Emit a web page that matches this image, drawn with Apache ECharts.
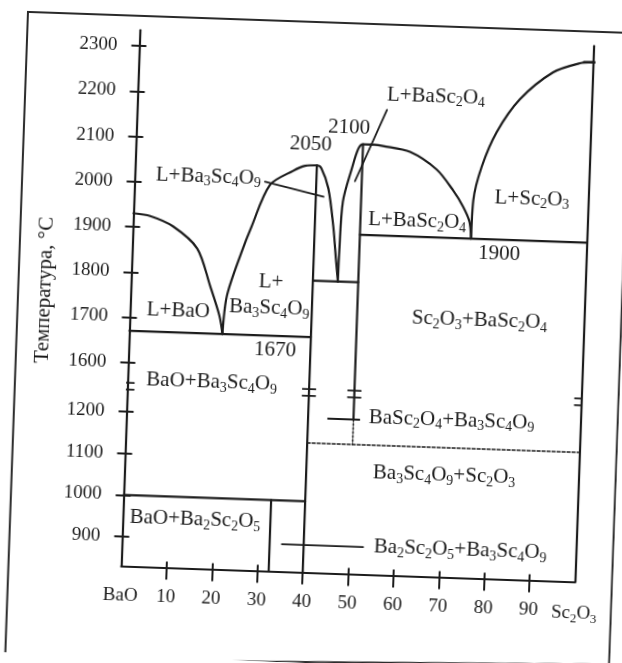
<!DOCTYPE html>
<html>
<head>
<meta charset="utf-8">
<script src="https://cdn.jsdelivr.net/npm/echarts@6/dist/echarts.min.js"></script>
<style>
  html, body { margin: 0; padding: 0; background: #fff; overflow: hidden; width: 622px; height: 663px; }
  /* the printed figure sits slightly skewed on the page */
  #chart { width: 622px; height: 663px; transform: rotate(2deg); transform-origin: 311px 331.5px; }
</style>
</head>
<body>
<div id="chart"></div>
<script>
// ---------- axes ----------
// composition, mol % Sc2O3
const xLabelValues = [0, 10, 20, 30, 40, 50, 60, 70, 80, 90, 100];
const xLabelNames  = ['BaO', '10', '20', '30', '40', '50', '60', '70', '80', '90', 'Sc2O3'];
const xTickValues  = [10, 20, 30, 40, 50, 60, 70, 80, 90];

// temperature, °C (axis is broken between 1200 and 1600)
const yTickValues = [900, 1000, 1100, 1200, 1600, 1700, 1800, 1900, 2000, 2100, 2200, 2300];
const T_BOTTOM = 829;
const T_TOP = 2335;

// ---------- compounds (mol % Sc2O3) ----------
const X_BA2SC2O5 = 32.5;
const X_BA3SC4O9 = 40;
const X_BASC2O4  = 50;

// ---------- invariant temperatures ----------
const T_EUT_BAO   = 1670;
const T_MAX_BA3   = 2050;
const T_EUT_MID   = 1795;
const T_MAX_BASC  = 2100;
const T_EUT_SC2O3 = 1900;
const T_SUB_1000  = 1000;
const T_DOTTED    = 1140;
const T_LEADER_HI = 1200;
const T_LEADER_LO = 895;

// ---------- liquidus curves [x, T] ----------
const liquidusBaO = [[0, 1930], [3.7, 1925], [8.8, 1904], [14.3, 1857], [17.4, 1776], [19.7, 1710], [20.5, T_EUT_BAO]];
const liquidusBa3Sc4O9 = [[20.5, T_EUT_BAO], [21.2, 1755], [24.1, 1853], [26.1, 1910], [29.8, 2003], [34.8, 2036],
  [37.4, 2048], [X_BA3SC4O9, T_MAX_BA3], [41, 2044], [42.7, 2000], [44.1, 1915], [44.9, 1845], [45.5, T_EUT_MID]];
const liquidusBaSc2O4 = [[45.5, T_EUT_MID], [45.6, 1865], [46.0, 1972], [47.7, 2045], [49.0, 2090], [X_BASC2O4, T_MAX_BASC],
  [52.5, 2100], [54.4, 2098], [60.4, 2087], [66.4, 2050], [70.2, 2005], [72.5, 1970], [74.0, 1938], [74.5, T_EUT_SC2O3]];
const liquidusSc2O3 = [[74.5, T_EUT_SC2O3], [74.7, 1985], [76.3, 2060], [79.3, 2137], [84.2, 2212], [91.3, 2274], [97.1, 2296], [100, 2299]];
const sc2o3MeltMark = [[98, 2299], [101, 2299]];

// ---------- straight phase boundaries ----------
const eutecticBaO   = [[0, T_EUT_BAO], [X_BA3SC4O9, T_EUT_BAO]];
const eutecticMid   = [[X_BA3SC4O9, T_EUT_MID], [X_BASC2O4, T_EUT_MID]];
const eutecticSc2O3 = [[X_BASC2O4, T_EUT_SC2O3], [100, T_EUT_SC2O3]];
const isotherm1000  = [[0, T_SUB_1000], [X_BA3SC4O9, T_SUB_1000]];
const isothermDotted = [[X_BA3SC4O9, T_DOTTED], [100, T_DOTTED]];
const lineBa2Sc2O5  = [[X_BA2SC2O5, T_SUB_1000], [X_BA2SC2O5, T_BOTTOM]];
const lineBa3Sc4O9  = [[X_BA3SC4O9, T_MAX_BA3], [X_BA3SC4O9, T_BOTTOM]];
const lineBaSc2O4   = [[X_BASC2O4, T_MAX_BASC], [X_BASC2O4, T_LEADER_HI]];
const lineBaSc2O4Dotted = [[X_BASC2O4, T_LEADER_HI], [X_BASC2O4, T_DOTTED]];

// label pointers
const leaderLines = [
  [[28.7, 2010], [41.7, 1981]],
  [[55.0, 2178], [48.5, 2018]],
  [[44.4, T_LEADER_HI], [51.3, T_LEADER_HI]],
  [[35.2, T_LEADER_LO], [53.1, T_LEADER_LO]]
];

// break symbols on the vertical lines
const breakLineX = [0, X_BA3SC4O9, X_BASC2O4, 100];
const breakMarkT = [1380, 1435];

// ---------- field labels: text, composition, temperature ----------
const fieldLabels = [
  ['L+BaO', 10.6, 1717],
  ['L+', 30.8, 1788],
  ['Ba3Sc4O9', 30.6, 1731],
  [String(T_EUT_BAO), 32.2, 1639],
  ['BaO+Ba3Sc4O9', 18.5, 1463],
  ['BaO+Ba2Sc2O5', 15.9, 946],
  [String(T_MAX_BA3), 38.5, 2095],
  [String(T_MAX_BASC), 46.8, 2135],
  ['L+BaSc2O4', 65.7, 2212],
  ['L+Ba3Sc4O9', 16.2, 2017],
  ['L+BaSc2O4', 62.5, 1934],
  ['L+Sc2O3', 87.6, 1993],
  [String(T_EUT_SC2O3), 80.8, 1869],
  ['Sc2O3+BaSc2O4', 77.0, 1719],
  ['BaSc2O4+Ba3Sc4O9', 71.6, 1222],
  ['Ba3Sc4O9+Sc2O3', 70.4, 1073],
  ['Ba2Sc2O5+Ba3Sc4O9', 74.5, 896]
];

// ---------- broken temperature scale ----------
const BREAK_LOW = 1200, BREAK_HIGH = 1600;
const BREAK_UNITS = 109;      // axis units taken by the break
const LOWER_RATIO = 0.9216;   // lower part is drawn slightly compressed
function toAxis(t) {
  if (t >= BREAK_HIGH) return t;
  const base = BREAK_HIGH - BREAK_UNITS;
  if (t <= BREAK_LOW) return base - (BREAK_LOW - t) * LOWER_RATIO;
  return base + (t - BREAK_LOW) * BREAK_UNITS / (BREAK_HIGH - BREAK_LOW);
}

// ---------- styling ----------
const INK = '#1c1c1c';
const FONT = '"Liberation Serif", "Times New Roman", serif';
const FS_TICK = 19;    // axis numbers
const FS_TEXT = 21;    // field labels and axis titles
const FS_SUB = 14;
const RICH_TICK = {
  n: { fontSize: FS_TICK, fontFamily: FONT, color: INK, fill: INK },
  s: { fontSize: 13, fontFamily: FONT, color: INK, fill: INK, padding: [10, 0, 0, 0] }
};
const RICH_TEXT = {
  n: { fontSize: FS_TEXT, fontFamily: FONT, color: INK, fill: INK },
  s: { fontSize: FS_SUB, fontFamily: FONT, color: INK, fill: INK, padding: [11, 0, 0, 0] }
};
// chemical formula -> rich text with subscripts
function chem(str) {
  const parts = str.match(/[^0-9]+|[0-9]+/g);
  return parts.map((p, i) => (/^[0-9]+$/.test(p) && i > 0) ? '{s|' + p + '}' : '{n|' + p + '}').join('');
}

const yTickAxis = yTickValues.map(toAxis);
const yLabelMap = new Map(yTickValues.map(t => [toAxis(t).toFixed(2), String(t)]));
const xLabelMap = new Map(xLabelValues.map((v, i) => [v, xLabelNames[i]]));

function seg(data, opt) {
  opt = opt || {};
  return {
    type: 'line',
    data: data.map(([x, t]) => [x, toAxis(t)]),
    showSymbol: false,
    symbol: 'none',
    silent: true,
    smooth: opt.smooth || false,
    lineStyle: { color: INK, width: opt.width || 2.2, type: opt.type || 'solid', cap: 'round', join: 'round' },
    z: 3
  };
}

const series = [
  seg(liquidusBaO, { smooth: 0.3 }),
  seg(liquidusBa3Sc4O9, { smooth: 0.3 }),
  seg(liquidusBaSc2O4, { smooth: 0.3 }),
  seg(liquidusSc2O3, { smooth: 0.3 }),
  seg(sc2o3MeltMark),
  seg(eutecticBaO),
  seg(eutecticMid),
  seg(eutecticSc2O3),
  seg(isotherm1000),
  seg(isothermDotted, { type: [3, 2], width: 1.5 }),
  seg(lineBa2Sc2O5),
  seg(lineBa3Sc4O9),
  seg(lineBaSc2O4),
  seg(lineBaSc2O4Dotted, { type: [2, 2], width: 1.5 }),
  ...leaderLines.map(l => seg(l, { width: 1.8 }))
];
breakLineX.forEach(x => {
  breakMarkT.forEach(t => series.push(seg([[x - 1.4, t], [x + 1.4, t]], { width: 1.8 })));
});

const tickStyle = { color: INK, width: 2 };
const option = {
  animation: false,
  backgroundColor: '#fff',
  grid: { left: 129.5, right: 38.5, top: 36.4, bottom: 90.4, outerBoundsMode: 'none' },
  xAxis: [
    {
      type: 'value', min: 0, max: 100, position: 'bottom',
      axisLine: { show: true, onZero: false, lineStyle: { color: INK, width: 2.2 } },
      axisTick: { show: true, customValues: xTickValues, length: 12, lineStyle: tickStyle },
      axisLabel: {
        show: true, customValues: xLabelValues, margin: 20, color: INK, fontFamily: FONT, fontSize: FS_TICK,
        formatter: v => chem(xLabelMap.get(v) || ''), rich: RICH_TICK
      },
      splitLine: { show: false }
    },
    {
      type: 'value', min: 0, max: 100, position: 'bottom',
      axisLine: { show: false },
      axisTick: { show: true, inside: true, customValues: xTickValues, length: 6, lineStyle: tickStyle },
      axisLabel: { show: false },
      splitLine: { show: false }
    }
  ],
  yAxis: [
    {
      type: 'value', min: toAxis(T_BOTTOM), max: toAxis(T_TOP), position: 'left',
      axisLine: { show: true, onZero: false, lineStyle: { color: INK, width: 2.2 } },
      axisTick: { show: true, customValues: yTickAxis, length: 8, lineStyle: tickStyle },
      axisLabel: {
        show: true, customValues: yTickAxis, margin: 22, color: INK, fontFamily: FONT, fontSize: FS_TICK,
        formatter: v => yLabelMap.get(v.toFixed(2)) || ''
      },
      splitLine: { show: false }
    },
    {
      type: 'value', min: toAxis(T_BOTTOM), max: toAxis(T_TOP), position: 'left',
      axisLine: { show: false },
      axisTick: { show: true, inside: true, customValues: yTickAxis, length: 7, lineStyle: tickStyle },
      axisLabel: { show: false },
      splitLine: { show: false }
    },
    {
      type: 'value', min: toAxis(T_BOTTOM), max: toAxis(T_TOP), position: 'right',
      axisLine: { show: true, onZero: false, lineStyle: { color: INK, width: 2.2 } },
      axisTick: { show: false },
      axisLabel: { show: false },
      splitLine: { show: false }
    }
  ],
  series: series
};

const chart = echarts.init(document.getElementById('chart'), null, { renderer: 'canvas' });
chart.setOption(option);

// texts placed from composition / temperature through the axes
const textStyle = { fill: INK, fontSize: FS_TEXT, fontFamily: FONT, align: 'center', verticalAlign: 'middle' };
const graphics = fieldLabels.map(([txt, x, t]) => {
  const p = chart.convertToPixel({ xAxisIndex: 0, yAxisIndex: 0 }, [x, toAxis(t)]);
  return { type: 'text', x: p[0], y: p[1], silent: true, z: 10,
    style: Object.assign({ text: chem(txt), rich: RICH_TEXT }, textStyle) };
});

// axis titles
const xTitlePos = chart.convertToPixel({ xAxisIndex: 0, yAxisIndex: 0 }, [51.4, T_BOTTOM]);
graphics.push({ type: 'text', x: xTitlePos[0], y: xTitlePos[1] + 72, silent: true,
  style: Object.assign({ text: 'Моль, %' }, textStyle) });
graphics.push({ type: 'text', x: 43.7, y: 299.3, rotation: Math.PI / 2, silent: true,
  style: Object.assign({ text: 'Температура, °С' }, textStyle) });

// outer frame of the figure
graphics.push({ type: 'polygon', silent: true, z: 1,
  shape: { points: [[17, 22], [621, 22], [620.5, 654], [16.7, 670]] },
  style: { fill: 'none', stroke: '#2a2a2a', lineWidth: 2 } });

chart.setOption({ graphic: graphics });
</script>
</body>
</html>
